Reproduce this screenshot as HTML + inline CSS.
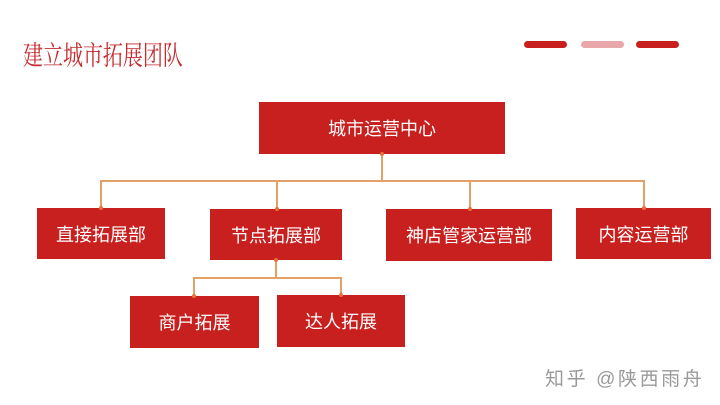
<!DOCTYPE html>
<html><head><meta charset="utf-8"><style>
body{margin:0;width:720px;height:405px;background:#fff;position:relative;overflow:hidden;font-family:"Liberation Sans","Noto Sans CJK SC",sans-serif}
.t{position:absolute;left:23px;top:34px;font-family:"Liberation Serif","Noto Serif CJK SC",serif;font-size:27px;color:#c62a2e;transform:scaleX(0.74);transform-origin:left top;white-space:nowrap}
.bar{position:absolute;top:41px;height:7px;border-radius:4px;width:43px}
.b{position:absolute;background:#c8201f;color:#fff;font-size:18px;display:flex;align-items:center;justify-content:center}
.h{position:absolute;background:#e3a067;height:2px}
.v{position:absolute;background:#e3a067;width:2px}
.d{position:absolute;width:4px;height:4px;border-radius:2px;background:#e8703a}
.w{position:absolute;left:545px;top:364px;font-size:19px;color:#9a9a9a;letter-spacing:2.6px;white-space:nowrap}
</style></head><body>
<div class="t">建立城市拓展团队</div>
<div class="bar" style="left:524px;background:#c8201f"></div>
<div class="bar" style="left:581px;background:#e9a7ab"></div>
<div class="bar" style="left:636px;background:#c8201f"></div>

<div class="v" style="left:381px;top:154px;height:28px"></div>
<div class="h" style="left:100px;top:180px;width:545px"></div>
<div class="v" style="left:100px;top:180px;height:28px"></div>
<div class="v" style="left:276px;top:180px;height:29px"></div>
<div class="v" style="left:469px;top:180px;height:29px"></div>
<div class="v" style="left:643px;top:180px;height:28px"></div>
<div class="v" style="left:275px;top:260px;height:18px"></div>
<div class="h" style="left:193px;top:277px;width:149px"></div>
<div class="v" style="left:193px;top:277px;height:19px"></div>
<div class="v" style="left:340px;top:277px;height:18px"></div>

<div class="b" style="left:259px;top:102px;width:246px;height:52px">城市运营中心</div>
<div class="b" style="left:37px;top:208px;width:128px;height:51px">直接拓展部</div>
<div class="b" style="left:210px;top:209px;width:132px;height:51px">节点拓展部</div>
<div class="b" style="left:386px;top:209px;width:166px;height:52px">神店管家运营部</div>
<div class="b" style="left:576px;top:208px;width:135px;height:51px">内容运营部</div>
<div class="b" style="left:130px;top:296px;width:129px;height:52px">商户拓展</div>
<div class="b" style="left:277px;top:295px;width:128px;height:52px">达人拓展</div>

<div class="d" style="left:380px;top:152px"></div>
<div class="d" style="left:99px;top:206px"></div>
<div class="d" style="left:275px;top:207px"></div>
<div class="d" style="left:468px;top:207px"></div>
<div class="d" style="left:642px;top:206px"></div>
<div class="d" style="left:274px;top:258px"></div>
<div class="d" style="left:192px;top:294px"></div>
<div class="d" style="left:339px;top:293px"></div>

<div class="w">知乎 @陕西雨舟</div>
</body></html>
